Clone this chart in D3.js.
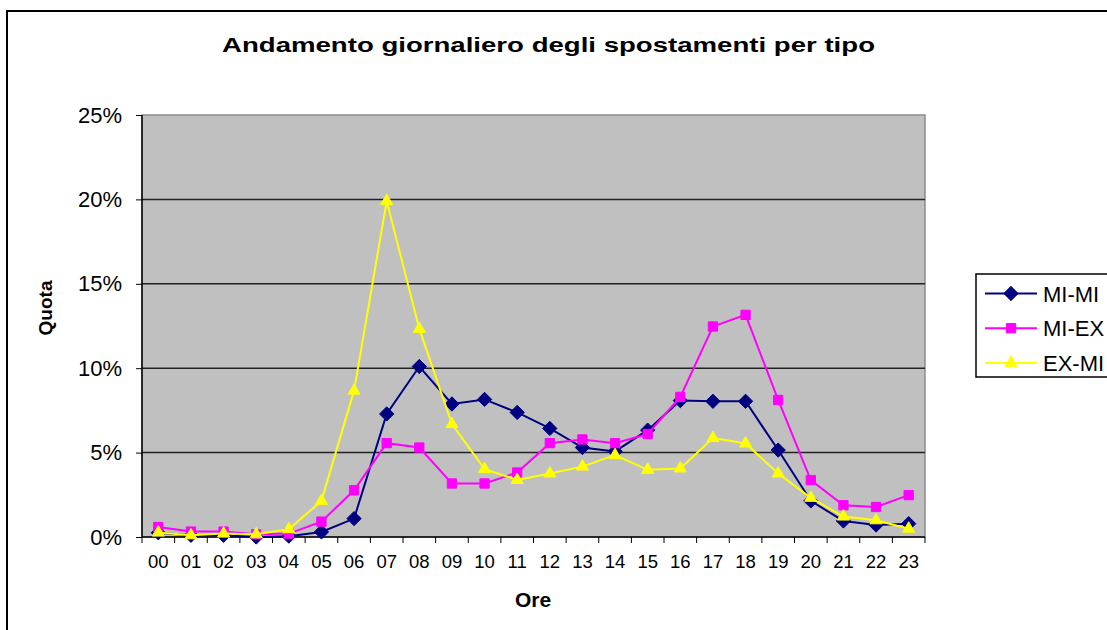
<!DOCTYPE html>
<html>
<head>
	<title>Andamento giornaliero degli spostamenti per tipo</title>
	<meta charset="utf-8">
	<style>
		body { margin: 0; background: #fff; }
		svg { display: block; font-family: "Liberation Sans", Arial, sans-serif; }
		.axis path { display: none; }
		.axis line { stroke: #000; }
		.line { fill: none; stroke-width: 2px; }
	</style>
	<script src="https://cdn.jsdelivr.net/npm/d3@7/dist/d3.min.js"></script>
</head>
<body>
	<svg width="1107" height="630"></svg>
	<script>

		var ore = ["00","01","02","03","04","05","06","07","08","09","10","11",
		           "12","13","14","15","16","17","18","19","20","21","22","23"];

		var miMi = [0.25, 0.1, 0.1, 0.0, 0.05, 0.3, 1.09, 7.29, 10.1, 7.88, 8.15, 7.38,
		            6.43, 5.3, 5.07, 6.33, 8.08, 8.04, 8.04, 5.15, 2.14, 0.95, 0.71, 0.79];

		var miEx = [0.59, 0.32, 0.32, 0.16, 0.2, 0.91, 2.77, 5.56, 5.3, 3.17, 3.17, 3.82,
		            5.56, 5.78, 5.56, 6.1, 8.3, 12.47, 13.16, 8.12, 3.37, 1.88, 1.78, 2.48];

		var exMi = [0.26, 0.1, 0.2, 0.16, 0.46, 2.14, 8.67, 19.9, 12.33, 6.69, 4.02, 3.38,
		            3.76, 4.17, 4.85, 3.98, 4.06, 5.86, 5.54, 3.76, 2.32, 1.21, 0.99, 0.49];

		var yTicks = [0, 5, 10, 15, 20, 25];

		var serie = [
			{nome: "MI-MI", valori: miMi, colore: "#000080", simbolo: d3.symbolDiamond2, size: 130},
			{nome: "MI-EX", valori: miEx, colore: "#ff00ff", simbolo: d3.symbolSquare2, size: 110},
			{nome: "EX-MI", valori: exMi, colore: "#ffff00", simbolo: d3.symbolTriangle2, size: 105}
		];

		var svg = d3.select("svg"),
		    plot = {left: 142, right: 925, top: 115, bottom: 537};

		// cornice esterna
		svg.append("rect")
		    .attr("x", 7).attr("y", 11)
		    .attr("width", 1200).attr("height", 700)
		    .attr("fill", "#fff")
		    .attr("stroke", "#000")
		    .attr("stroke-width", 2);

		var x = d3.scaleBand()
		    .domain(ore)
		    .range([plot.left, plot.right]);

		var y = d3.scaleLinear()
		    .domain([0, 25])
		    .range([plot.bottom, plot.top]);

		// sfondo area grafico
		svg.append("rect")
		    .attr("x", plot.left).attr("y", plot.top)
		    .attr("width", plot.right - plot.left)
		    .attr("height", plot.bottom - plot.top)
		    .attr("fill", "#c0c0c0")
		    .attr("stroke", "#8c8c8c")
		    .attr("stroke-width", 1.5);

		// griglia
		svg.append("g")
		    .selectAll("line")
		    .data(yTicks.slice(1, -1))
		    .enter().append("line")
		      .attr("x1", plot.left).attr("x2", plot.right)
		      .attr("y1", function(d) { return y(d); })
		      .attr("y2", function(d) { return y(d); })
		      .attr("stroke", "#222")
		      .attr("stroke-width", 1.5);

		// asse y
		svg.append("line")
		    .attr("x1", plot.left).attr("x2", plot.left)
		    .attr("y1", plot.top).attr("y2", plot.bottom)
		    .attr("stroke", "#000").attr("stroke-width", 1.5);

		svg.append("g")
		    .attr("class", "axis")
		    .attr("transform", "translate(" + plot.left + ",0)")
		    .call(d3.axisLeft(y).tickValues(yTicks).tickSize(6).tickPadding(14)
		        .tickFormat(function(d) { return d + "%"; }))
		    .selectAll("text")
		      .attr("font-size", 22)
		      .attr("font-family", "Liberation Sans, Arial, sans-serif")
		      .attr("fill", "#000");

		// asse x
		svg.append("line")
		    .attr("x1", plot.left).attr("x2", plot.right)
		    .attr("y1", plot.bottom).attr("y2", plot.bottom)
		    .attr("stroke", "#000").attr("stroke-width", 1.5);

		var xAxis = svg.append("g")
		    .attr("class", "axis")
		    .attr("transform", "translate(0," + plot.bottom + ")");

		xAxis.selectAll("line")
		    .data(ore.concat(["fine"]))
		    .enter().append("line")
		      .attr("x1", function(d, i) { return plot.left + i * x.step(); })
		      .attr("x2", function(d, i) { return plot.left + i * x.step(); })
		      .attr("y1", 0).attr("y2", 6)
		      .attr("stroke", "#000");

		xAxis.selectAll("text")
		    .data(ore)
		    .enter().append("text")
		      .attr("x", function(d) { return x(d) + x.bandwidth() / 2; })
		      .attr("y", 31)
		      .attr("text-anchor", "middle")
		      .attr("font-size", 18.5)
		      .text(function(d) { return d; });

		// serie
		serie.forEach(function(s) {
			var line = d3.line()
			    .x(function(d, i) { return x(ore[i]) + x.bandwidth() / 2; })
			    .y(function(d) { return y(d); });

			svg.append("path")
			    .datum(s.valori)
			    .attr("class", "line")
			    .attr("stroke", s.colore)
			    .attr("d", line);

			svg.append("g")
			    .selectAll("path")
			    .data(s.valori)
			    .enter().append("path")
			      .attr("transform", function(d, i) {
			          return "translate(" + (x(ore[i]) + x.bandwidth() / 2) + "," + y(d) + ")"; })
			      .attr("d", d3.symbol().type(s.simbolo).size(s.size))
			      .attr("fill", s.colore)
			      .attr("stroke", s.colore)
			      .attr("stroke-width", 1);
		});

		// titoli
		svg.append("text")
		    .attr("x", 548.5).attr("y", 52)
		    .attr("text-anchor", "middle")
		    .attr("font-size", 21)
		    .attr("font-weight", "bold")
		    .attr("textLength", 653)
		    .attr("lengthAdjust", "spacingAndGlyphs")
		    .text("Andamento giornaliero degli spostamenti per tipo");

		svg.append("text")
		    .attr("transform", "translate(52,308) rotate(-90)")
		    .attr("text-anchor", "middle")
		    .attr("font-size", 19)
		    .attr("font-weight", "bold")
		    .text("Quota");

		svg.append("text")
		    .attr("x", 533).attr("y", 607)
		    .attr("text-anchor", "middle")
		    .attr("font-size", 21)
		    .attr("font-weight", "bold")
		    .text("Ore");

		// legenda
		svg.append("rect")
		    .attr("x", 976).attr("y", 274)
		    .attr("width", 300).attr("height", 103)
		    .attr("fill", "#fff")
		    .attr("stroke", "#000")
		    .attr("stroke-width", 1.5);

		var legend = svg.append("g")
		    .selectAll("g")
		    .data(serie)
		    .enter().append("g")
		      .attr("transform", function(d, i) { return "translate(985," + (293.5 + i * 34.7) + ")"; });

		legend.append("line")
		    .attr("x1", 0).attr("x2", 52)
		    .attr("stroke", function(d) { return d.colore; })
		    .attr("stroke-width", 2);

		legend.append("path")
		    .attr("transform", "translate(26,0)")
		    .attr("d", function(d) { return d3.symbol().type(d.simbolo).size(d.size)(); })
		    .attr("fill", function(d) { return d.colore; })
		    .attr("stroke", function(d) { return d.colore; });

		legend.append("text")
		    .attr("x", 58)
		    .attr("y", 8)
		    .attr("font-size", 22)
		    .text(function(d) { return d.nome; });

	</script>
</body>
</html>
